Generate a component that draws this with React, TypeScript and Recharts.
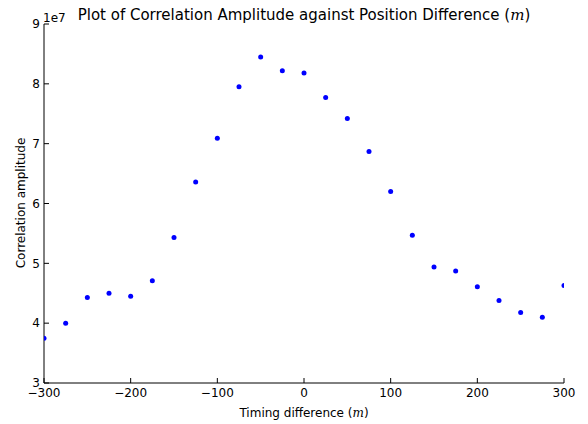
import React from 'react';
import { ScatterChart, Scatter, XAxis, YAxis } from 'recharts';

// timing offsets (m) and measured correlation amplitudes
const positions = [
  -300, -275, -250, -225, -200, -175, -150, -125, -100, -75, -50, -25, 0,
  25, 50, 75, 100, 125, 150, 175, 200, 225, 250, 275, 300,
];
const amplitudes = [
  3.75e7, 4.0e7, 4.43e7, 4.5e7, 4.45e7, 4.71e7, 5.43e7, 6.36e7, 7.09e7, 7.95e7, 8.45e7, 8.22e7, 8.18e7,
  7.77e7, 7.42e7, 6.87e7, 6.2e7, 5.47e7, 4.94e7, 4.87e7, 4.61e7, 4.38e7, 4.18e7, 4.1e7, 4.63e7,
];
const xTicks = [-300, -200, -100, 0, 100, 200, 300];
const yTicks = [3e7, 4e7, 5e7, 6e7, 7e7, 8e7, 9e7];

const data = positions.map((x, i) => ({ x, y: amplitudes[i] }));

const FONT = "'DejaVu Sans', sans-serif";
const tickStyle = { fontSize: 12, fill: '#000', fontFamily: FONT };
const axisLine = { stroke: '#000', strokeWidth: 1 };

const fmtX = (v: number) => String(v).replace('-', '\u2212');
const fmtY = (v: number) => String(Math.round(v / 1e7));

const Dot = (p: any) => <circle cx={p.cx} cy={p.cy} r={2.5} fill="#0000ff" />;

const App: React.FC = () => {
  return (
    <div style={{ position: 'absolute', left: 0, top: 0, width: 588, height: 424, background: '#fff' }}>
      <ScatterChart width={588} height={424} margin={{ top: 24, right: 24, bottom: 0, left: 0 }}>
        <XAxis
          dataKey="x"
          type="number"
          domain={[-300, 300]}
          ticks={xTicks}
          tickFormatter={fmtX}
          allowDataOverflow
          height={41}
          tickSize={-5}
          tickMargin={10}
          tick={tickStyle}
          axisLine={axisLine}
          tickLine={axisLine}
        />
        <XAxis
          xAxisId="top"
          orientation="top"
          type="number"
          domain={[-300, 300]}
          ticks={xTicks}
          allowDataOverflow
          height={0}
          tickSize={-5}
          tick={false}
          axisLine={axisLine}
          tickLine={axisLine}
        />
        <YAxis
          dataKey="y"
          type="number"
          domain={[3e7, 9e7]}
          ticks={yTicks}
          tickFormatter={fmtY}
          allowDataOverflow
          width={44}
          tickSize={-5}
          tickMargin={9}
          tick={tickStyle}
          axisLine={axisLine}
          tickLine={axisLine}
        />
        <YAxis
          yAxisId="right"
          orientation="right"
          type="number"
          domain={[3e7, 9e7]}
          ticks={yTicks}
          allowDataOverflow
          width={0}
          tickSize={-5}
          tick={false}
          axisLine={axisLine}
          tickLine={axisLine}
        />
        <Scatter data={data} shape={Dot} isAnimationActive={false} />
      </ScatterChart>
      <svg
        width={588}
        height={424}
        style={{ position: 'absolute', left: 0, top: 0, pointerEvents: 'none' }}
        fontFamily={FONT}
      >
        <text x={304} y={20} textAnchor="middle" fontSize={15} fill="#000">
          Plot of Correlation Amplitude against Position Difference (
          <tspan fontFamily="'DejaVu Serif', serif" fontStyle="italic">m</tspan>)
        </text>
        <text x={43} y={22} fontSize={12} fill="#000">1e7</text>
        <text x={304} y={417} textAnchor="middle" fontSize={12} fill="#000">
          Timing difference (<tspan fontFamily="'DejaVu Serif', serif" fontStyle="italic">m</tspan>)
        </text>
        <text x={25} y={203} textAnchor="middle" fontSize={12} fill="#000" transform="rotate(-90 25 203)">
          Correlation amplitude
        </text>
      </svg>
    </div>
  );
};

export default App;
